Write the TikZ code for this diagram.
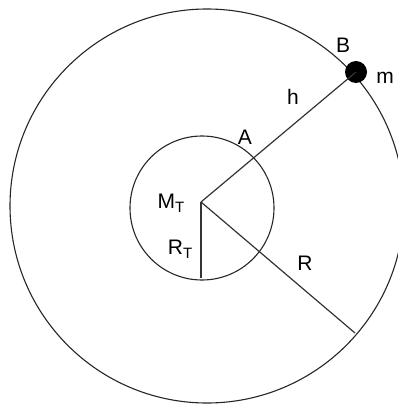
\documentclass[tikz,border=0pt]{standalone}
\usepackage{fontspec}
\setmainfont{Liberation Sans}
\newcommand{\subT}{\raisebox{-0.4ex}{\fontsize{15}{15}\selectfont T}}
\tikzset{
  orbit/.style={line width=1.1pt, black!85},
  radius line/.style={line width=1.2pt, black!80},
  lbl/.style={inner sep=0pt, font=\fontsize{21}{21}\selectfont}
}
\begin{document}
\begin{tikzpicture}[x=1pt, y=-1pt]
            \useasboundingbox (0,0) rectangle (398,404);
            \clip (0,0) rectangle (398,404);
            % orbits
            \draw[orbit] (207,206) circle (197);
            \draw[orbit] (202,208) circle (72);
            % points
            \coordinate (O) at (201,202);
            \coordinate (P) at (355,333);
            \coordinate (Q) at (201,278);
            \node[circle, fill=black, inner sep=0pt, minimum size=22pt] (B) at (356,72) {};
            \draw[radius line] (O) -- (B.center);
            \draw[radius line] (O) -- (P);
            \draw[radius line] (O) -- (Q);
            % labels
            \node[lbl] (labB) at (343,45) {B};
            \node[lbl] (labm) at (385,78) {m};
            \node[lbl] (labh) at (293,97) {h};
            \node[lbl] (labA) at (245,137) {A};
            \node[lbl] (labM) at (171,203) {M\subT};
            \node[lbl] (labRT) at (180,249) {R\subT};
            \node[lbl] (labR) at (305,263) {R};
        \end{tikzpicture}
\end{document}
